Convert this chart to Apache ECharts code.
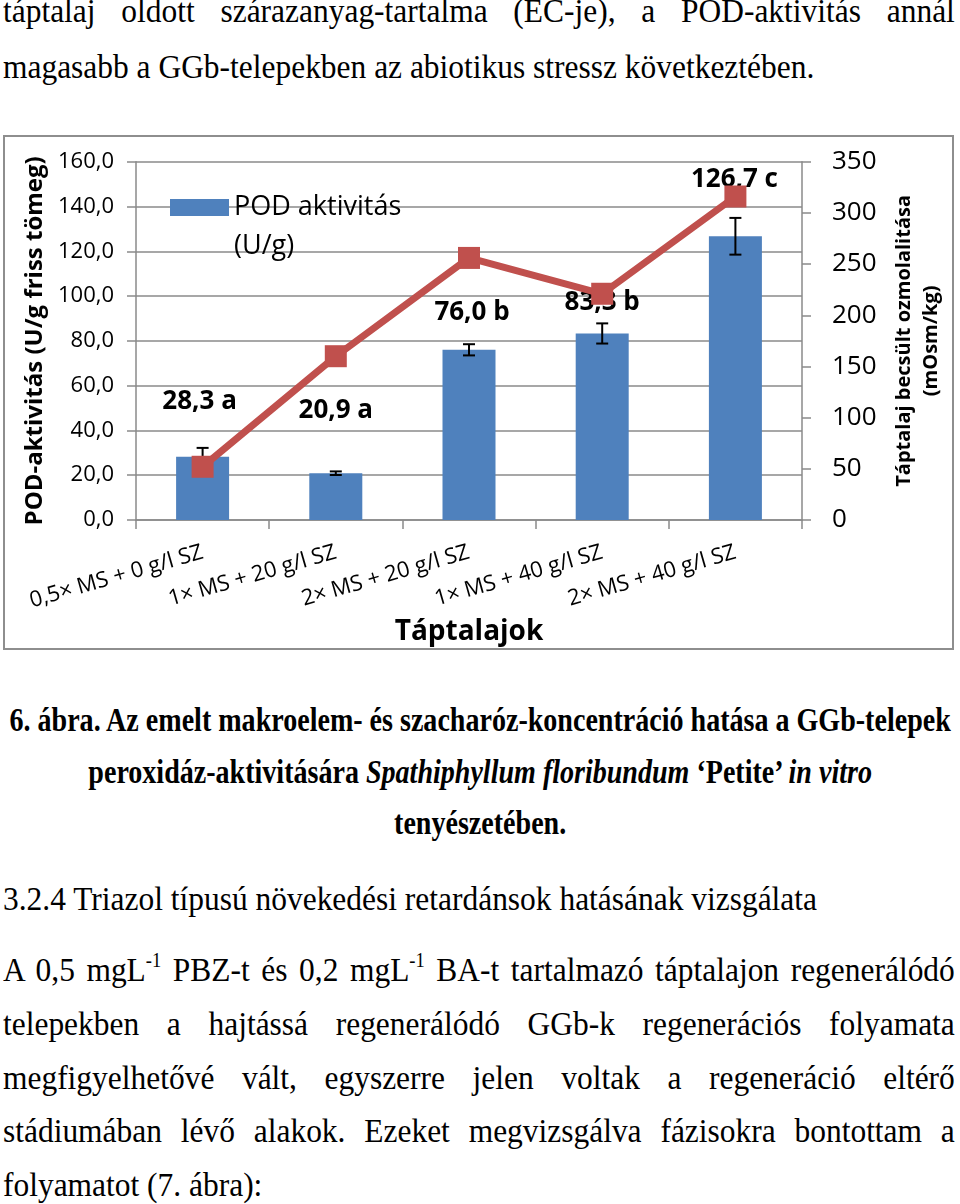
<!DOCTYPE html>
<html>
<head>
<meta charset="utf-8">
<script src="https://cdn.jsdelivr.net/npm/echarts@6/dist/echarts.min.js"></script>
<style>
  html, body { margin: 0; padding: 0; background: #fff; }
  body { width: 960px; height: 1204px; position: relative; overflow: hidden; font-family: "Liberation Serif", serif; color: #000; }
  .ln { position: absolute; left: 3px; white-space: nowrap; font-size: 34px; line-height: 34px; transform-origin: 0 0; transform: scaleX(0.925); }
  .j { width: 1029px; text-align: justify; text-align-last: justify; }
  .c { left: 0; width: 1164px; text-align: center; font-weight: bold; transform: scaleX(0.825); }
  sup { font-size: 20px; line-height: 0; position: relative; top: -2px; }
  #frame { position: absolute; left: 3px; top: 135px; width: 951px; height: 515px; border: 2px solid #8e8e8e; box-sizing: border-box; pointer-events: none; }
  #chart { position: absolute; left: 0; top: 130px; width: 960px; height: 530px; }
</style>
</head>
<body>
<div class="ln j" style="top:-6px">táptalaj oldott szárazanyag-tartalma (EC-je), a POD-aktivitás annál</div>
<div class="ln" style="top:50px">magasabb a GGb-telepekben az abiotikus stressz következtében.</div>

<div id="chart"></div>
<div id="frame"></div>

<div class="ln c" style="top:703px">6. ábra. Az emelt makroelem- és szacharóz-koncentráció hatása a GGb-telepek</div>
<div class="ln c" style="top:755px">peroxidáz-aktivitására <i>Spathiphyllum floribundum</i> ‘Petite’ <i>in vitro</i></div>
<div class="ln c" style="top:806px">tenyészetében.</div>

<div class="ln" style="top:882px">3.2.4 Triazol típusú növekedési retardánsok hatásának vizsgálata</div>
<div class="ln j" style="top:953px">A 0,5 mgL<sup>-1</sup> PBZ-t és 0,2 mgL<sup>-1</sup> BA-t tartalmazó táptalajon regenerálódó</div>
<div class="ln j" style="top:1007px">telepekben a hajtássá regenerálódó GGb-k regenerációs folyamata</div>
<div class="ln j" style="top:1061px">megfigyelhetővé vált, egyszerre jelen voltak a regeneráció eltérő</div>
<div class="ln j" style="top:1114px">stádiumában lévő alakok. Ezeket megvizsgálva fázisokra bontottam a</div>
<div class="ln" style="top:1168px">folyamatot (7. ábra):</div>

<script>
// adatok
var categories = ['0,5× MS + 0 g/l SZ', '1× MS + 20 g/l SZ', '2× MS + 20 g/l SZ', '1× MS + 40 g/l SZ', '2× MS + 40 g/l SZ']
var podValues = [28.3, 20.9, 76.0, 83.3, 126.7]
var podErrors = [3.9, 0.8, 2.5, 4.5, 8.2]
var podLetters = ['a', 'a', 'b', 'b', 'c']
var osmValues = [52, 160, 256, 221, 316]

var FONT = 'Open Sans'
var GRAY = '#8a8a8a'

// kézzel igazított címkék (Excel-ben elhúzva)
var labelOffsets = [[-3, -40], [0, -48], [3, -22], [0, -16], [-1, -42]]

var chart = echarts.init(document.getElementById('chart'))

var option = {
  animation: false,
  textStyle: { fontFamily: FONT, color: '#000' },
  grid: { left: 136, right: 158, top: 31.7, bottom: 140 },
  legend: {
    data: ['POD aktivitás'],
    left: 170,
    top: 19,
    padding: 0,
    selectedMode: false,
    icon: 'rect',
    itemWidth: 59,
    itemHeight: 17,
    // üres első sor, hogy a jel az első sorhoz igazodjon
    formatter: '\nPOD aktivitás\n(U/g)',
    textStyle: { fontFamily: FONT, fontSize: 27, lineHeight: 39, color: '#000' }
  },
  xAxis: {
    type: 'category',
    data: categories,
    axisLine: { lineStyle: { color: GRAY, width: 1.5 } },
    axisTick: { show: true, length: 9, lineStyle: { color: GRAY, width: 1.5 } },
    axisLabel: { rotate: 16, margin: 32, interval: 0, fontSize: 22, color: '#000', fontFamily: FONT },
    name: 'Táptalajok',
    nameLocation: 'middle',
    nameGap: 88,
    nameTextStyle: { fontSize: 28, fontWeight: 'bold', color: '#000', fontFamily: FONT }
  },
  yAxis: [
    {
      type: 'value',
      position: 'left',
      min: 0,
      max: 160,
      interval: 20,
      axisLine: { show: true, lineStyle: { color: GRAY, width: 1.5 } },
      axisTick: { show: true, length: 9, lineStyle: { color: GRAY, width: 1.5 } },
      splitLine: { lineStyle: { color: GRAY, width: 1.5 } },
      axisLabel: {
        fontSize: 22, margin: 22, color: '#000', fontFamily: FONT,
        formatter: function (v) { return v.toFixed(1).replace('.', ',') }
      },
      name: 'POD-aktivitás (U/g friss tömeg)',
      nameLocation: 'middle',
      nameRotate: 90,
      nameGap: 89,
      nameTextStyle: { fontSize: 24, fontWeight: 'bold', color: '#000', fontFamily: FONT }
    },
    {
      type: 'value',
      position: 'right',
      min: 0,
      max: 350,
      interval: 50,
      axisLine: { show: true, lineStyle: { color: GRAY, width: 1.5 } },
      axisTick: { show: true, length: 9, lineStyle: { color: GRAY, width: 1.5 } },
      splitLine: { show: false },
      axisLabel: { fontSize: 26, margin: 30, color: '#000', fontFamily: FONT },
      name: 'Táptalaj becsült ozmolalitása\n(mOsm/kg)',
      nameLocation: 'middle',
      nameRotate: 90,
      nameGap: 89,
      nameTextStyle: { fontSize: 20, lineHeight: 27, fontWeight: 'bold', color: '#000', fontFamily: FONT, align: 'center' }
    }
  ],
  series: [
    {
      name: 'POD aktivitás',
      type: 'bar',
      barWidth: 53,
      itemStyle: { color: '#4F81BD' },
      data: podValues.map(function (v, i) {
        return { value: v, label: { offset: labelOffsets[i] } }
      }),
      label: {
        show: true,
        position: 'top',
        distance: 0,
        fontSize: 26,
        lineHeight: 30,
        fontWeight: 'bold',
        color: '#000',
        fontFamily: FONT,
        formatter: function (p) {
          return p.value.toFixed(1).replace('.', ',') + ' ' + podLetters[p.dataIndex]
        }
      },
      z: 2
    },
    {
      name: 'hiba',
      type: 'custom',
      z: 3,
      data: podValues.map(function (v, i) { return [i, v, podErrors[i]] }),
      renderItem: function (params, api) {
        var x = api.value(0)
        var v = api.value(1)
        var e = api.value(2)
        var hi = api.coord([x, v + e])
        var lo = api.coord([x, v - e])
        var w = 6
        var st = { stroke: '#000', lineWidth: 2 }
        return {
          type: 'group',
          children: [
            { type: 'line', shape: { x1: hi[0], y1: hi[1], x2: lo[0], y2: lo[1] }, style: st },
            { type: 'line', shape: { x1: hi[0] - w, y1: hi[1], x2: hi[0] + w, y2: hi[1] }, style: st },
            { type: 'line', shape: { x1: lo[0] - w, y1: lo[1], x2: lo[0] + w, y2: lo[1] }, style: st }
          ]
        }
      }
    },
    {
      name: 'ozmolalitás',
      type: 'line',
      yAxisIndex: 1,
      data: osmValues,
      symbol: 'rect',
      symbolSize: 22,
      lineStyle: { color: '#C0504D', width: 7 },
      itemStyle: { color: '#C0504D' },
      z: 4
    }
  ]
}

chart.setOption(option, true)
</script>
</body>
</html>
